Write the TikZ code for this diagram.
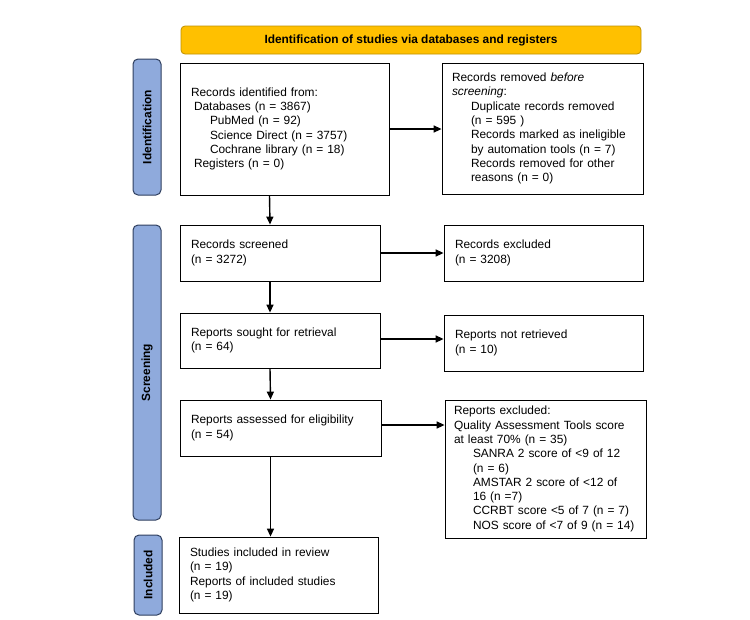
\documentclass[tikz,border=0pt]{standalone}
\usepackage{fontspec}
\setmainfont{Liberation Sans}
\usetikzlibrary{arrows.meta}

\definecolor{bannerfill}{HTML}{FFC000}
\definecolor{bannerline}{HTML}{BF9000}
\definecolor{stagefill}{HTML}{8FAADC}
\definecolor{stageline}{HTML}{2F3F5F}

\tikzset{
	flowbox/.style={rectangle, draw=black, line width=0.8pt, inner xsep=11pt, inner ysep=0pt, align=left, font=\fontsize{11.9}{14.3}\selectfont},
	stagebar/.style={rectangle, rounded corners=5pt, draw=stageline, fill=stagefill, line width=1pt, minimum height=28pt, rotate=90, font=\fontsize{11.9}{14.3}\selectfont\bfseries},
	banner/.style={rectangle, rounded corners=4pt, draw=bannerline, fill=bannerfill, line width=0.8pt, minimum width=460pt, minimum height=28pt, font=\fontsize{11.9}{14.3}\selectfont\bfseries},
	flowarrow/.style={-{Triangle[length=8pt,width=7pt]}, line width=1.4pt}
}

\newcommand{\ind}{\hspace*{19pt}}

\begin{document}
\begin{tikzpicture}[x=1pt,y=-1pt]
	\useasboundingbox (0,0) rectangle (750,619);

	\node 	(head)		at	(411,40) 	[banner]{Identification of studies via databases and registers};

	\node 	(identification)	at	(147,127) 	[stagebar, minimum width=136pt]{Identification};
	\node 	(screening)		at	(147,372.5) 	[stagebar, minimum width=295pt]{Screening};
	\node 	(included)		at	(148,575) 	[stagebar, minimum width=80pt]{Included};

	\node 	(found)		at	(284.5,129) 	[flowbox, text width=187pt, minimum height=132pt]{Records identified from:\\
		\hspace*{3pt}Databases (n = 3867)\\
		\hspace*{19pt}PubMed (n = 92)\\
		\hspace*{19pt}Science Direct (n = 3757)\\
		\hspace*{19pt}Cochrane library (n = 18)\\
		\hspace*{3pt}Registers (n = 0)};

	\node 	(removed)	at	(542.5,128.5) 	[flowbox, inner xsep=10pt, text width=181pt, minimum height=131pt]{Records removed \textit{before}\\
		\textit{screening}:\\
		\ind Duplicate records removed\\
		\ind (n = 595 )\\
		\ind Records marked as ineligible\\
		\ind by automation tools (n = 7)\\
		\ind Records removed for other\\
		\ind reasons (n = 0)};

	\node 	(screened)	at	(280,253) 	[flowbox, text width=178pt, minimum height=56pt]{Records screened\\(n = 3272)};
	\node 	(excluded)	at	(543.5,253) 	[flowbox, text width=177pt, minimum height=56pt]{Records excluded\\(n = 3208)};

	\node 	(sought)	at	(280,340.5) 	[flowbox, text width=178pt, minimum height=55pt]{Reports sought for retrieval\\(n = 64)};
	\node 	(notfound)	at	(543.5,343) 	[flowbox, text width=177pt, minimum height=56pt]{Reports not retrieved\\(n = 10)};

	\node 	(assessed)	at	(280.5,428) 	[flowbox, text width=179pt, minimum height=56pt]{Reports assessed for eligibility\\(n = 54)};
	\node 	(rejected)	at	(545.5,469) 	[flowbox, inner xsep=9pt, text width=183pt, minimum height=138pt]{Reports excluded:\\
		Quality Assessment Tools score\\
		at least 70\% (n = 35)\\
		\ind SANRA 2 score of <9 of 12\\
		\ind (n = 6)\\
		\ind AMSTAR 2 score of <12 of\\
		\ind 16 (n =7)\\
		\ind CCRBT score <5 of 7 (n = 7)\\
		\ind NOS score of <7 of 9 (n = 14)};

	\node 	(studies)	at	(278.5,575) 	[flowbox, text width=177pt, minimum height=76pt]{Studies included in review\\
		(n = 19)\\
		Reports of included studies\\
		(n = 19)};

	% down the left column
	\draw[flowarrow]	([xshift=-15pt]found.south)		--	([xshift=-10pt]screened.north);
	\draw[flowarrow]	([xshift=-10pt]screened.south)	--	([xshift=-10pt]sought.north);
	\draw[flowarrow]	([xshift=-10pt]sought.south)		--	([xshift=-10pt]assessed.north);
	\draw[flowarrow]	([xshift=-10pt]assessed.south)	--	([xshift=-8pt]studies.north);

	% to the right column
	\draw[flowarrow]	(found.east)		--	(found.east -| removed.west);
	\draw[flowarrow]	(screened.east)	--	(screened.east -| excluded.west);
	\draw[flowarrow]	([yshift=1.5pt]sought.east)	--	([yshift=1.5pt]sought.east -| notfound.west);
	\draw[flowarrow]	([yshift=3pt]assessed.east)	--	([yshift=3pt]assessed.east -| rejected.west);

\end{tikzpicture}
\end{document}
